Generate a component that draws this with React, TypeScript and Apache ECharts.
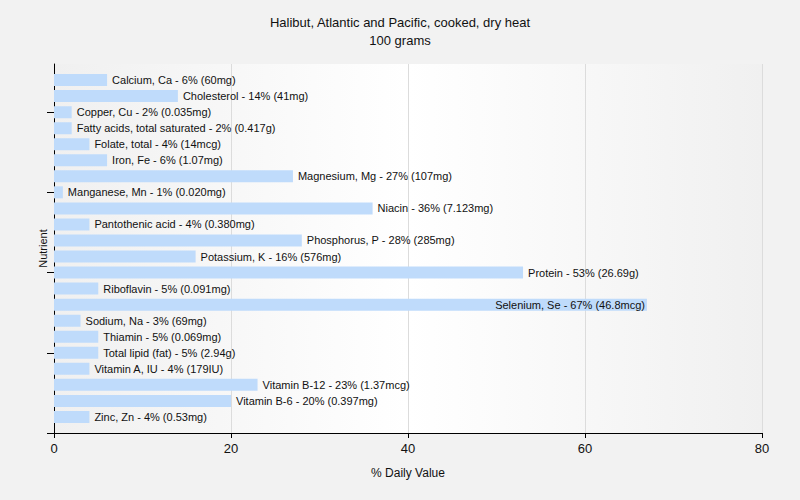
import React, { useEffect, useRef } from "react";
import * as echarts from "echarts";

const categories = [
  "Calcium, Ca",
  "Cholesterol",
  "Copper, Cu",
  "Fatty acids, total saturated",
  "Folate, total",
  "Iron, Fe",
  "Magnesium, Mg",
  "Manganese, Mn",
  "Niacin",
  "Pantothenic acid",
  "Phosphorus, P",
  "Potassium, K",
  "Protein",
  "Riboflavin",
  "Selenium, Se",
  "Sodium, Na",
  "Thiamin",
  "Total lipid (fat)",
  "Vitamin A, IU",
  "Vitamin B-12",
  "Vitamin B-6",
  "Zinc, Zn",
];
const values = [6, 14, 2, 2, 4, 6, 27, 1, 36, 4, 28, 16, 53, 5, 67, 3, 5, 5, 4, 23, 20, 4];
const amounts = [
  "60mg", "41mg", "0.035mg", "0.417g", "14mcg", "1.07mg", "107mg", "0.020mg", "7.123mg", "0.380mg",
  "285mg", "576mg", "26.69g", "0.091mg", "46.8mcg", "69mg", "0.069mg", "2.94g", "179IU", "1.37mcg",
  "0.397mg", "0.53mg",
];
const xTicks = [0, 20, 40, 60, 80];

const FONT = "Liberation Sans";

export default function App() {
  const ref = useRef<HTMLDivElement>(null);
  useEffect(() => {
    if (!ref.current) return;
    const chart = echarts.init(ref.current, null, { renderer: "svg" });
    const paddedCats = ["", ...categories, ""];
    const data: any[] = [{ value: null }];
    values.forEach((v, i) => {
      const inside = v > 60;
      data.push({
        value: v,
        label: {
          show: true,
          position: inside ? "insideRight" : "right",
          distance: inside ? 2 : 5,
          formatter: `${categories[i]} - ${v}% (${amounts[i]})`,
        },
      });
    });
    data.push({ value: null });
    chart.setOption({
      animation: false,
      backgroundColor: "#f2f2f2",
      title: {
        text: "Halibut, Atlantic and Pacific, cooked, dry heat\n100 grams",
        left: "center",
        top: 8,
        textStyle: {
          fontFamily: FONT,
          fontSize: 13,
          fontWeight: "normal",
          color: "#111",
          lineHeight: 18,
        },
      },
      grid: {
        left: 54,
        right: 38,
        top: 64,
        bottom: 67,
        show: true,
        borderWidth: 0,
        backgroundColor: new echarts.graphic.LinearGradient(0, 0, 1, 0, [
          { offset: 0, color: "#f0f0f0" },
          { offset: 0.5, color: "#ffffff" },
          { offset: 1, color: "#f0f0f0" },
        ]),
      },
      xAxis: {
        type: "value",
        min: xTicks[0],
        max: xTicks[xTicks.length - 1],
        interval: 20,
        name: "% Daily Value",
        nameLocation: "middle",
        nameGap: 34,
        nameTextStyle: { fontFamily: FONT, fontSize: 12, color: "#111" },
        axisLine: { show: true, lineStyle: { color: "#000", width: 1 } },
        axisTick: { show: true, length: 5, lineStyle: { color: "#000" } },
        axisLabel: { fontFamily: FONT, fontSize: 13, color: "#111", margin: 9 },
        splitLine: { show: true, lineStyle: { color: "#dcdcdc", width: 1 } },
      },
      yAxis: {
        type: "category",
        inverse: true,
        data: paddedCats,
        boundaryGap: false,
        name: "Nutrient",
        nameLocation: "middle",
        nameGap: 6,
        nameTextStyle: { fontFamily: FONT, fontSize: 11, color: "#111" },
        axisLine: { show: true, lineStyle: { color: "#000", width: 1 } },
        axisTick: {
          show: true,
          length: 7,
          interval: (i: number) => i % 5 === 3,
          lineStyle: { color: "#000" },
        },
        axisLabel: { show: false },
        splitLine: { show: false },
      },
      series: [
        {
          type: "bar",
          data,
          barWidth: 12,
          itemStyle: { color: "#bfdbfb" },
          label: {
            fontFamily: FONT,
            fontSize: 11,
            color: "#111",
          },
        },
      ],
    });
    return () => chart.dispose();
  }, []);
  return (
    <div
      ref={ref}
      style={{ position: "fixed", left: 0, top: 0, width: 800, height: 500 }}
    />
  );
}
